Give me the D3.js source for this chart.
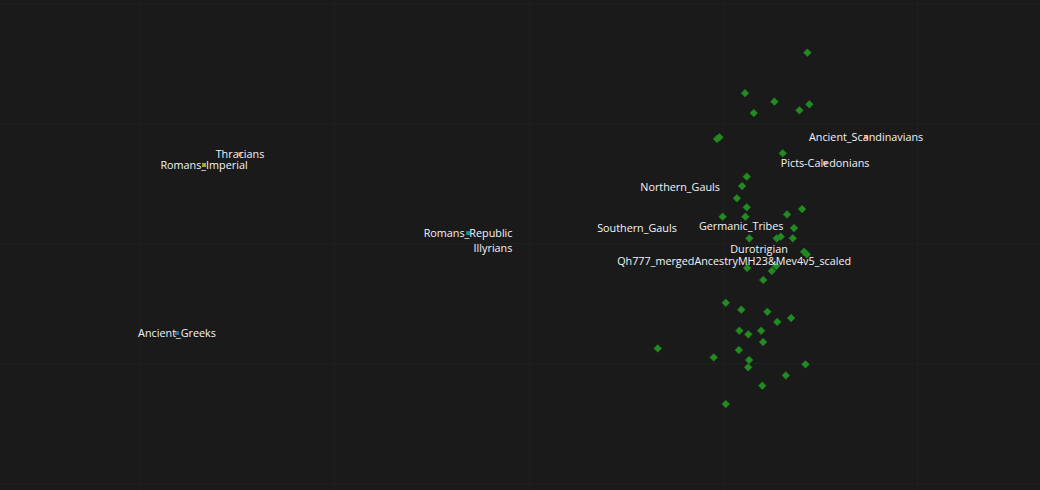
<!DOCTYPE html>
<html>
<head>
<meta charset="utf-8">
<script src="https://cdn.jsdelivr.net/npm/d3@7"></script>
<style>
  html, body { margin: 0; padding: 0; background: #1a1a1a; }
  svg { display: block; }
</style>
</head>
<body>
<script>
// PCA-style coordinates
var sampleX = [0.0434, 0.0113, 0.0264, 0.0158, 0.0393, 0.0444, -0.0031, -0.0019, 0.0307, 0.0122,
               0.0098, 0.0071, 0.0122, 0.0407, 0.0329, -0.0002, 0.0115, 0.0365, 0.0135, 0.0276,
               0.0297, 0.0359, 0.0417, 0.0431, 0.0124, 0.0273, 0.0251, 0.0207, 0.0014, 0.0094,
               0.0228, 0.0350, 0.0279, 0.0084, 0.0130, 0.0196, 0.0206, -0.0336, 0.0081, -0.0048,
               0.0134, 0.0129, 0.0424, 0.0323, 0.0202, 0.0014];
var sampleY = [0.1586, 0.1248, 0.1178, 0.1083, 0.1106, 0.1156, 0.0867, 0.0881, 0.0748, 0.0553,
               0.0475, 0.0373, 0.0298, 0.0283, 0.0238, 0.0219, 0.0219, 0.0125, 0.0039, 0.0039,
               0.0053, 0.0039, -0.0073, -0.0094, -0.0208, -0.0192, -0.0233, -0.0308, -0.0498, -0.0556,
               -0.0573, -0.0625, -0.0658, -0.0731, -0.0761, -0.0731, -0.0825, -0.0878, -0.0892, -0.0953,
               -0.0975, -0.1036, -0.1011, -0.1103, -0.1189, -0.1342];

var popNames = ["Thracians", "Romans_Imperial", "Romans_Republic", "Illyrians", "Ancient_Greeks",
                "Northern_Gauls", "Southern_Gauls", "Germanic_Tribes", "Durotrigian",
                "Qh777_mergedAncestryMH23&Mev4v5_scaled", "Ancient_Scandinavians", "Picts-Caledonians"];
var popX = [-0.2486, -0.2671, -0.1312, -0.1184, -0.2810, -0.0221, -0.0443, 0.0093, 0.0185, 0.0057, 0.0736, 0.0525];
var popY = [0.0742, 0.0650, 0.0083, -0.0042, -0.0750, 0.0467, 0.0125, 0.0142, -0.0050, -0.0150, 0.0883, 0.0667];
var popColors = ["#b5562e", "#a9a822", "#168f94", "none", "#1f6fa8", "none", "none",
                 "none", "none", "none", "#d9731a", "#b86a9c"];

var gridX = [-0.3, -0.2, -0.1, 0, 0.1];
var gridY = [0.2, 0.1, 0, -0.1, -0.2];

var w = 1040, h = 490;

var x = d3.scaleLinear().domain([-0.3721, 0.1631]).range([0, w]);
var y = d3.scaleLinear().domain([0.2025, -0.2058]).range([0, h]);

var svg = d3.select("body").append("svg")
    .attr("width", w)
    .attr("height", h);

svg.append("rect").attr("width", w).attr("height", h).attr("fill", "#1a1a1a");

var grid = svg.append("g").attr("class", "grid");
grid.selectAll("line.gx").data(gridX).enter().append("line")
    .attr("x1", d => Math.round(x(d)) + 0.5).attr("x2", d => Math.round(x(d)) + 0.5)
    .attr("y1", 0).attr("y2", h)
    .attr("stroke", "#1f1f1f").attr("stroke-width", 1);
grid.selectAll("line.gy").data(gridY).enter().append("line")
    .attr("y1", d => Math.round(y(d)) + 0.5).attr("y2", d => Math.round(y(d)) + 0.5)
    .attr("x1", 0).attr("x2", w)
    .attr("stroke", "#1f1f1f").attr("stroke-width", 1);

var diamond = d3.symbol().type(d3.symbolSquare).size(30);

svg.append("g").selectAll("path")
    .data(d3.range(sampleX.length))
    .enter().append("path")
    .attr("d", diamond)
    .attr("transform", i => "translate(" + x(sampleX[i]) + "," + y(sampleY[i]) + ") rotate(45)")
    .attr("fill", "#228b22")
    .attr("stroke", "#1f7a1f")
    .attr("stroke-width", 0.6);

var marker = d3.symbol().type(d3.symbolSquare).size(16);
svg.append("g").selectAll("path")
    .data(d3.range(popNames.length))
    .enter().append("path")
    .attr("d", marker)
    .attr("transform", i => "translate(" + x(popX[i]) + "," + y(popY[i]) + ")")
    .attr("fill", i => popColors[i]);

svg.append("g").selectAll("text")
    .data(d3.range(popNames.length))
    .enter().append("text")
    .attr("x", i => x(popX[i]))
    .attr("y", i => y(popY[i]))
    .attr("dy", "0.35em")
    .attr("text-anchor", "middle")
    .attr("fill", "#f2f5fa")
    .style("font-family", "'Open Sans', sans-serif")
    .style("font-size", "10.8px")
    .text(i => popNames[i]);
</script>
</body>
</html>
